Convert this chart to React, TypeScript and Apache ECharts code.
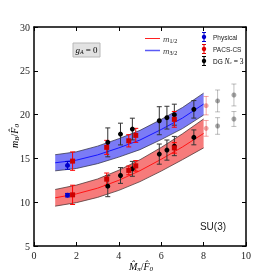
import React, { useEffect, useRef } from "react";
import * as echarts from "echarts";

// Band sample abscissae
const bandX = [1, 2, 3, 4, 5, 6, 7, 8];
// m_{1/2} (red) band
const m12Center = [10.5, 10.95, 11.6, 12.5, 13.6, 14.9, 16.3, 17.85];
const m12Lower = [9.55, 9.95, 10.55, 11.35, 12.35, 13.55, 14.85, 16.2];
const m12Upper = [11.45, 11.95, 12.65, 13.65, 14.85, 16.25, 17.8, 19.5];
// m_{3/2} (blue) band
const m32Center = [14.5, 14.8, 15.4, 16.2, 17.1, 18.3, 19.6, 21.2];
const m32Lower = [13.58, 13.85, 14.4, 15.15, 16.0, 17.15, 18.4, 19.95];
const m32Upper = [15.42, 15.75, 16.4, 17.25, 18.2, 19.45, 20.8, 22.45];

// Data points: [x, y, error]
const physical = [
  [1.58, 14.2, 0.45],
  [1.58, 10.8, 0.2],
];
const pacsCS = [
  [1.82, 14.69, 1.05],
  [3.43, 16.26, 0.8],
  [4.47, 17.01, 0.7],
  [4.8, 17.63, 0.8],
  [6.62, 19.46, 0.9],
  [1.82, 10.84, 1.1],
  [3.43, 12.63, 0.7],
  [4.47, 13.63, 0.5],
  [4.8, 14.15, 0.6],
  [6.62, 16.2, 0.6],
];
const dgNc3 = [
  [3.48, 16.83, 1.65],
  [4.08, 17.78, 1.24],
  [4.64, 18.35, 1.24],
  [5.91, 19.3, 1.6],
  [6.27, 19.65, 1.3],
  [6.62, 19.99, 1.2],
  [7.54, 20.6, 1.0],
  [3.48, 11.83, 1.2],
  [4.08, 13.05, 0.9],
  [4.64, 13.81, 0.85],
  [5.91, 15.49, 1.15],
  [6.27, 15.95, 1.15],
  [6.62, 16.41, 1.1],
  [7.54, 17.4, 0.85],
];
const pacsFaded = [
  [8.12, 21.02, 1.05],
  [8.12, 18.43, 0.9],
];
const dgFaded = [
  [8.66, 21.56, 1.25],
  [8.66, 18.7, 0.95],
  [9.43, 22.24, 1.25],
  [9.43, 19.5, 0.85],
];

const xTicks = { min: 0, max: 10, interval: 2 };
const yTicks = { min: 5, max: 30, interval: 5 };

const SERIF = "'Liberation Serif', 'DejaVu Serif', serif";
const SANS = "'Liberation Sans', Arial, sans-serif";

function bandSeries(lower: number[], upper: number[], fill: string) {
  return {
    type: "custom",
    silent: true,
    data: [[bandX[0], lower[0]]],
    encode: { x: 0, y: 1 },
    z: 1,
    renderItem: (_p: any, api: any) => {
      const pts: number[][] = [];
      for (let i = 0; i < bandX.length; i++) pts.push(api.coord([bandX[i], upper[i]]));
      for (let i = bandX.length - 1; i >= 0; i--) pts.push(api.coord([bandX[i], lower[i]]));
      return {
        type: "polygon",
        shape: { points: pts },
        style: { fill, stroke: "none" },
      };
    },
  };
}

function lineSeries(vals: number[], color: string, width: number) {
  return {
    type: "line",
    data: bandX.map((x, i) => [x, vals[i]]),
    symbol: "none",
    silent: true,
    z: 2,
    lineStyle: { color, width },
  };
}

function errSeries(data: number[][], color: string, opacity: number) {
  return {
    type: "custom",
    data,
    encode: { x: 0, y: 1 },
    z: 3,
    silent: true,
    renderItem: (_p: any, api: any) => {
      const x = api.value(0);
      const y = api.value(1);
      const e = api.value(2);
      const top = api.coord([x, y + e]);
      const bot = api.coord([x, y - e]);
      const cw = 2.5;
      const st = { stroke: color, lineWidth: 1, opacity };
      return {
        type: "group",
        children: [
          { type: "line", shape: { x1: top[0], y1: top[1], x2: bot[0], y2: bot[1] }, style: st },
          { type: "line", shape: { x1: top[0] - cw, y1: top[1], x2: top[0] + cw, y2: top[1] }, style: st },
          { type: "line", shape: { x1: bot[0] - cw, y1: bot[1], x2: bot[0] + cw, y2: bot[1] }, style: st },
        ],
      };
    },
  };
}

function pointSeries(data: number[][], color: string, opacity: number, symbol = "circle") {
  return {
    type: "scatter",
    data: data.map((d) => [d[0], d[1]]),
    symbol,
    symbolSize: 5,
    z: 4,
    silent: true,
    itemStyle: { color, opacity, borderColor: color, borderWidth: 0 },
  };
}

function legendMarker(x: number, y: number, color: string) {
  return [
    { type: "line", shape: { x1: x, y1: y - 4.5, x2: x, y2: y + 4.5 }, style: { stroke: color, lineWidth: 1 } },
    { type: "line", shape: { x1: x - 2, y1: y - 4.5, x2: x + 2, y2: y - 4.5 }, style: { stroke: color, lineWidth: 1 } },
    { type: "line", shape: { x1: x - 2, y1: y + 4.5, x2: x + 2, y2: y + 4.5 }, style: { stroke: color, lineWidth: 1 } },
    { type: "circle", shape: { cx: x, cy: y, r: 2.2 }, style: { fill: color } },
  ];
}

export default function App() {
  const ref = useRef<HTMLDivElement>(null);
  useEffect(() => {
    if (!ref.current) return;
    const chart = echarts.init(ref.current, null, { renderer: "svg" });
    const axisLine = { show: true, onZero: false, lineStyle: { color: "#000", width: 1.5 } };
    const tick = { show: true, inside: true, length: 4, lineStyle: { color: "#000", width: 1 } };
    const label = { fontFamily: SERIF, fontSize: 10, color: "#222", margin: 4 };
    const sub = { fontFamily: SERIF, fontSize: 7, color: "#222", padding: [5, 0, 0, 0] };
    const it = { fontFamily: SERIF, fontStyle: "italic", fontSize: 10, color: "#222" };
    const nm = { fontFamily: SERIF, fontSize: 10, color: "#222" };
    chart.setOption({
      animation: false,
      grid: { left: 34, right: 27, top: 27, bottom: 27, containLabel: false },
      xAxis: [
        { type: "value", ...xTicks, position: "bottom", axisLine, axisTick: tick, axisLabel: label, splitLine: { show: false } },
        { type: "value", ...xTicks, position: "top", axisLine, axisTick: tick, axisLabel: { show: false }, splitLine: { show: false } },
      ],
      yAxis: [
        { type: "value", ...yTicks, position: "left", axisLine, axisTick: tick, axisLabel: label, splitLine: { show: false } },
        { type: "value", ...yTicks, position: "right", axisLine, axisTick: tick, axisLabel: { show: false }, splitLine: { show: false } },
      ],
      series: [
        bandSeries(m32Lower, m32Upper, "rgba(100,100,245,0.85)"),
        bandSeries(m12Lower, m12Upper, "rgba(245,100,100,0.85)"),
        lineSeries(m32Lower, "#3a3a50", 0.8),
        lineSeries(m32Upper, "#3a3a50", 0.8),
        lineSeries(m12Lower, "#503a3a", 0.8),
        lineSeries(m12Upper, "#503a3a", 0.8),
        lineSeries(m32Center, "#1414ff", 1),
        lineSeries(m12Center, "#ff1414", 1),
        errSeries(dgFaded, "#444", 0.35),
        pointSeries(dgFaded, "#000", 0.35),
        errSeries(pacsFaded, "#e00000", 0.35),
        pointSeries(pacsFaded, "#d00000", 0.35),
        errSeries(dgNc3, "#333", 1),
        pointSeries(dgNc3, "#000", 1),
        errSeries(pacsCS, "#ff0000", 1),
        pointSeries(pacsCS, "#cc0000", 1, "rect"),
        errSeries(physical, "#0000cc", 1),
        pointSeries(physical, "#0000cc", 1),
      ],
      graphic: [
        // g_A = 0 box
        { type: "rect", shape: { x: 73, y: 43, width: 27, height: 14 }, style: { fill: "#e2e2e2", stroke: "#b8b8b8", lineWidth: 1 }, z: 10 },
        {
          type: "text", x: 86.5, y: 50, z: 11,
          style: {
            text: "{i|g}{s|A}{n| = 0}", align: "center", verticalAlign: "middle",
            rich: { i: { ...it, fontSize: 9 }, s: { ...it, fontSize: 6, padding: [4, 0, 0, 0] }, n: { ...nm, fontSize: 9 } },
          },
        },
        // legend lines
        { type: "line", shape: { x1: 145, y1: 38.5, x2: 160, y2: 38.5 }, style: { stroke: "#ff2020", lineWidth: 1 }, z: 10 },
        { type: "line", shape: { x1: 145, y1: 50.5, x2: 160, y2: 50.5 }, style: { stroke: "#5a5af5", lineWidth: 1.5 }, z: 10 },
        {
          type: "text", x: 163, y: 38.5, z: 10,
          style: { text: "{i|m}{s|1/2}", verticalAlign: "middle", rich: { i: { ...it, fontSize: 9, fill: "#444" }, s: { ...sub, fontSize: 6, padding: [4, 0, 0, 0] } } },
        },
        {
          type: "text", x: 163, y: 50.5, z: 10,
          style: { text: "{i|m}{s|3/2}", verticalAlign: "middle", rich: { i: { ...it, fontSize: 9, fill: "#444" }, s: { ...sub, fontSize: 6, padding: [4, 0, 0, 0] } } },
        },
        // legend markers
        ...legendMarker(204, 37, "#0000cc").map((e) => ({ ...e, z: 10 })),
        ...legendMarker(204, 49, "#e00000").map((e) => ({ ...e, z: 10 })),
        ...legendMarker(204, 61, "#000").map((e) => ({ ...e, z: 10 })),
        { type: "text", x: 213, y: 37, z: 10, style: { text: "Physical", fontFamily: SANS, fontSize: 6.5, fill: "#222", verticalAlign: "middle" } },
        { type: "text", x: 213, y: 49, z: 10, style: { text: "PACS-CS", fontFamily: SANS, fontSize: 6.5, fill: "#222", verticalAlign: "middle" } },
        {
          type: "text", x: 213, y: 61, z: 10,
          style: {
            text: "{a|DG }{i|N}{s|c}{n| = 3}", verticalAlign: "middle",
            rich: {
              a: { fontFamily: SANS, fontSize: 6.5, color: "#222" },
              i: { ...it, fontSize: 7.5 },
              s: { ...it, fontSize: 5, padding: [3, 0, 0, 0] },
              n: { ...nm, fontSize: 7.5 },
            },
          },
        },
        // SU(3)
        { type: "text", x: 213, y: 226, z: 10, style: { text: "SU(3)", fontFamily: SANS, fontSize: 10, fill: "#222", align: "center", verticalAlign: "middle" } },
        // axis titles
        {
          type: "text", x: 141, y: 266, z: 10,
          style: {
            text: "{i|M\u0302}{s|\u03c0}{n|/}{i|F\u0302}{s|0}", align: "center", verticalAlign: "middle",
            rich: { i: it, s: { ...it, fontSize: 7, padding: [5, 0, 0, 0] }, n: nm },
          },
        },
        {
          type: "text", x: 14, y: 136, rotation: Math.PI / 2, z: 10,
          style: {
            text: "{i|m}{s|B}{n|/}{i|F\u0302}{s|0}", align: "center", verticalAlign: "middle",
            rich: { i: it, s: { ...it, fontSize: 7, padding: [5, 0, 0, 0] }, n: nm },
          },
        },
      ],
    });
    return () => chart.dispose();
  }, []);
  return <div ref={ref} style={{ position: "fixed", left: 0, top: 0, width: 273, height: 273 }} />;
}
